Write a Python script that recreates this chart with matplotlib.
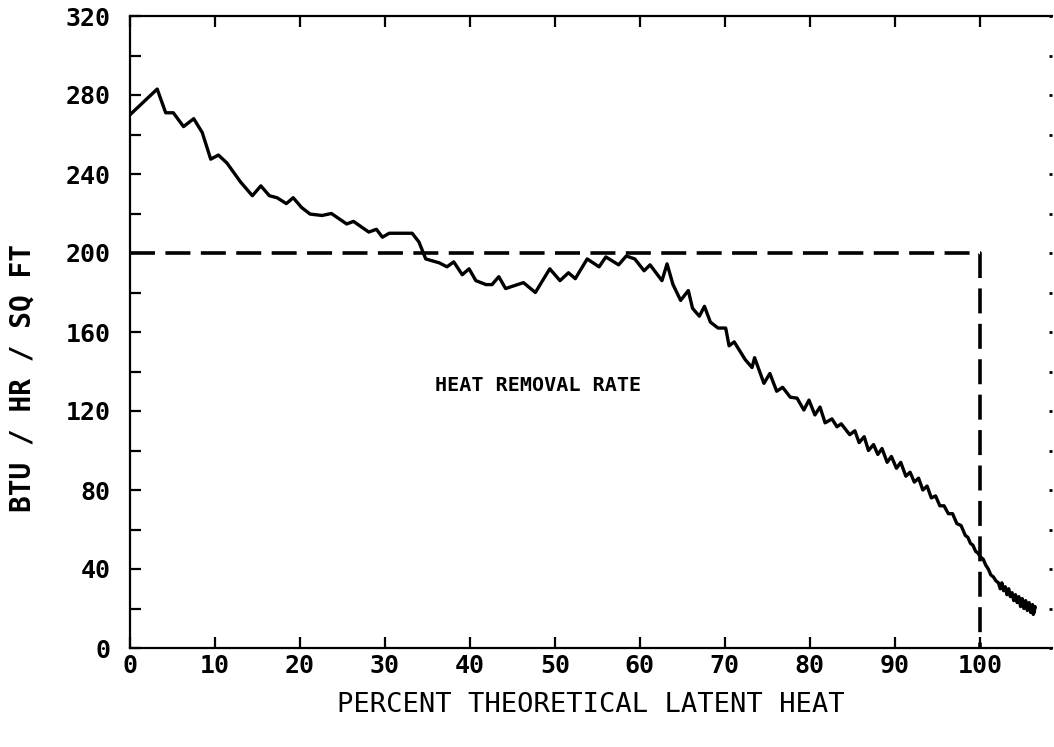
import matplotlib
matplotlib.use("Agg")
import matplotlib.pyplot as plt
from matplotlib.ticker import MultipleLocator

# ---- data ----
pct_latent = [0, 3.2, 4.2, 5.1, 6.3, 7.5, 8.5, 9.5, 10.4, 11.4, 13.0, 14.4, 15.4, 16.4,
              17.3, 18.4, 19.2, 20.2, 21.2, 22.6, 23.7, 25.5, 26.3, 28.1, 29.0, 29.7,
              30.5, 33.2, 34.0, 34.8, 36.4, 37.3, 38.1, 39.1, 39.9, 40.7, 41.9, 42.6,
              43.4, 44.2, 46.3, 47.7, 49.4, 50.6, 51.6, 52.4, 53.8, 55.2, 56.0, 57.5,
              58.4, 59.4, 60.5, 61.2, 62.6, 63.2, 63.9, 64.8, 65.7, 66.2, 67.0, 67.6,
              68.3, 69.2, 70.1, 70.5, 71.1, 72.4, 73.2, 73.5, 74.6, 75.3, 76.1, 76.8,
              77.7, 78.5, 79.3, 79.9, 80.6, 81.2, 81.8, 82.6, 83.2, 83.7, 84.7, 85.3,
              85.8, 86.4, 86.9, 87.5, 88.0, 88.5, 89.1, 89.6, 90.2, 90.7, 91.3, 91.8,
              92.3, 92.8, 93.3, 93.8, 94.3, 94.8, 95.3, 95.8, 96.3, 96.8, 97.3, 97.8,
              98.3, 98.6, 98.9, 99.2, 99.5, 99.8, 100.1, 100.4, 100.7, 101.0, 101.3,
              101.6, 101.9, 102.2, 102.4, 102.6, 102.8, 103.0, 103.2, 103.4, 103.6,
              103.8, 104.0, 104.2, 104.4, 104.6, 104.8, 105.0, 105.2, 105.4, 105.6,
              105.8, 106.0, 106.2, 106.4, 106.5, 106.3, 106.1]
heat_rate = [270, 283, 271, 271, 264, 268, 261, 247.5, 249.6, 245.6, 236, 229, 234, 229,
             228, 225, 228, 223, 219.7, 219, 220, 214.7, 216, 210.6, 212, 208,
             210, 210, 205.6, 197, 195, 193, 195.5, 189, 192, 186, 184, 184,
             188, 182, 185, 180, 192, 186, 190, 187, 197, 193, 198, 194,
             198.5, 197, 191, 194, 186, 194.5, 184, 176, 181, 172, 168, 173,
             165, 162, 162, 153, 155, 146, 142, 147, 134, 139, 130, 132,
             127, 126.5, 120.5, 125.5, 118, 122, 114, 116, 112, 113.5, 108, 110,
             104, 107, 100, 103, 98, 101, 94, 97, 91, 94, 87, 89,
             84, 86, 80, 82, 76, 77, 72, 72, 68, 68, 63, 62,
             57, 56, 53, 52, 49, 48, 46, 45, 42, 40, 37,
             36, 34, 33, 30, 33, 29, 31, 27, 30, 26,
             28, 24, 27, 23, 26, 21, 25, 20, 24, 19,
             23, 18, 22, 18, 21, 17, 20]

design_x = [0, 100, 100]
design_y = [200, 200, 0]

x_ticks = [0, 10, 20, 30, 40, 50, 60, 70, 80, 90, 100]
y_ticks = [0, 40, 80, 120, 160, 200, 240, 280, 320]

annotation = "HEAT REMOVAL RATE"
x_title = "PERCENT THEORETICAL LATENT HEAT"
y_title = "BTU / HR / SQ FT"

# ---- figure ----
plt.rcParams['lines.scale_dashes'] = False
mono = ['DejaVu Sans Mono']

fig = plt.figure(figsize=(10.54, 7.47), dpi=100)
ax = fig.add_axes([130/1054, 99/747, 922/1054, 632/747])

ax.plot(pct_latent, heat_rate, color='black', lw=2.4, solid_joinstyle='round')
ax.plot(design_x, design_y, color='black', lw=2.6, dashes=(18, 7.5))

ax.set_xlim(0, 108.5)
ax.set_ylim(0, 320)

ax.yaxis.set_minor_locator(MultipleLocator(20))
ax.set_xticks(x_ticks)
ax.set_yticks(y_ticks)

for s in ['left', 'bottom', 'top']:
    ax.spines[s].set_linewidth(1.6)
ax.spines['right'].set_visible(False)

ax.tick_params(axis='x', which='major', direction='in', length=8, width=1.6,
               top=True, bottom=True, pad=4)
ax.tick_params(axis='y', which='major', direction='in', length=8, width=1.6,
               left=True, right=False, pad=14)
ax.tick_params(axis='y', which='minor', direction='in', length=8, width=1.6,
               left=True, right=False)
ax.tick_params(axis='x', which='minor', bottom=False, top=False)

# right-side dot ticks every 20
ax2 = ax.secondary_yaxis('right')
ax2.spines['right'].set_visible(False)
ax2.yaxis.set_major_locator(MultipleLocator(20))
ax2.tick_params(axis='y', direction='in', length=2.5, width=2, labelright=False)

for lab in ax.get_xticklabels() + ax.get_yticklabels():
    lab.set_family(mono)
    lab.set_fontweight('bold')
    lab.set_fontsize(18)

ax.text(48.0, 133, annotation, family=mono, fontweight='bold', fontsize=14.5,
        ha='center', va='center')

fig.text(591/1054, 1 - 705/747, x_title, family=mono, fontsize=19.5,
         ha='center', va='center')
fig.text(22/1054, 1 - 378/747, y_title, family=mono, fontweight='bold',
         fontsize=20, rotation=90, ha='center', va='center')

fig.savefig('out.png', dpi=100)
